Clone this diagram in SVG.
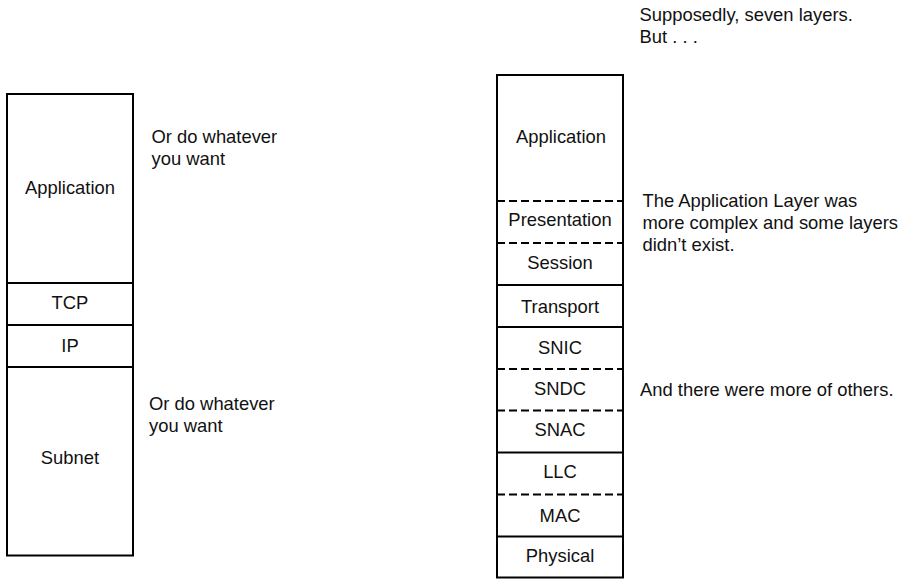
<svg xmlns="http://www.w3.org/2000/svg" width="905" height="579" viewBox="0 0 905 579">
<style>
.box{fill:#fff;stroke:#000;stroke-width:2}
.sep{stroke:#000;stroke-width:2;fill:none}
.dash{stroke:#000;stroke-width:2;fill:none;stroke-dasharray:8 4}
text{font-family:"Liberation Sans",Arial,sans-serif;font-size:18.4px;fill:#111}
.c{text-anchor:middle}
</style>
<rect width="905" height="579" fill="#fff"/>
<g id="left-stack">
  <rect class="box" x="7" y="94" width="126" height="461.5"/>
  <g id="l-application"><text class="c" x="70" y="194">Application</text></g>
  <g id="l-tcp"><line class="sep" x1="7" y1="283" x2="133" y2="283"/><text class="c" x="70" y="309">TCP</text></g>
  <g id="l-ip"><line class="sep" x1="7" y1="325" x2="133" y2="325"/><text class="c" x="70" y="351.5">IP</text></g>
  <g id="l-subnet"><line class="sep" x1="7" y1="367" x2="133" y2="367"/><text class="c" x="70" y="464">Subnet</text></g>
</g>
<g id="right-stack">
  <rect class="box" x="497" y="75" width="126" height="502.5"/>
  <g id="r-application"><text class="c" x="561" y="142.5">Application</text></g>
  <g id="r-presentation"><line class="dash" x1="497" y1="201" x2="623" y2="201"/><text class="c" x="560" y="226">Presentation</text></g>
  <g id="r-session"><line class="dash" x1="497" y1="243" x2="623" y2="243"/><text class="c" x="560" y="268.5">Session</text></g>
  <g id="r-transport"><line class="sep" x1="497" y1="285" x2="623" y2="285"/><text class="c" x="560" y="312.5">Transport</text></g>
  <g id="r-snic"><line class="sep" x1="497" y1="327" x2="623" y2="327"/><text class="c" x="560" y="354">SNIC</text></g>
  <g id="r-sndc"><line class="dash" x1="497" y1="369" x2="623" y2="369"/><text class="c" x="560" y="395">SNDC</text></g>
  <g id="r-snac"><line class="dash" x1="497" y1="410.5" x2="623" y2="410.5"/><text class="c" x="560" y="436">SNAC</text></g>
  <g id="r-llc"><line class="sep" x1="497" y1="452.5" x2="623" y2="452.5"/><text class="c" x="560" y="478">LLC</text></g>
  <g id="r-mac"><line class="dash" x1="497" y1="494.5" x2="623" y2="494.5"/><text class="c" x="560" y="521.5">MAC</text></g>
  <g id="r-physical"><line class="sep" x1="497" y1="536.5" x2="623" y2="536.5"/><text class="c" x="560" y="561.5">Physical</text></g>
</g>
<g id="notes">
  <text x="151.5" y="143">Or do whatever</text>
  <text x="151.5" y="165">you want</text>
  <text x="149" y="410">Or do whatever</text>
  <text x="149" y="432">you want</text>
  <text x="639.5" y="20.5">Supposedly, seven layers.</text>
  <text x="639.5" y="42.5">But . . .</text>
  <text x="642.5" y="206.5">The Application Layer was</text>
  <text x="642.5" y="228.5">more complex and some layers</text>
  <text x="642.5" y="250.5">didn’t exist.</text>
  <text x="640" y="396">And there were more of others.</text>
</g>
<g id="connectors"/>
</svg>
